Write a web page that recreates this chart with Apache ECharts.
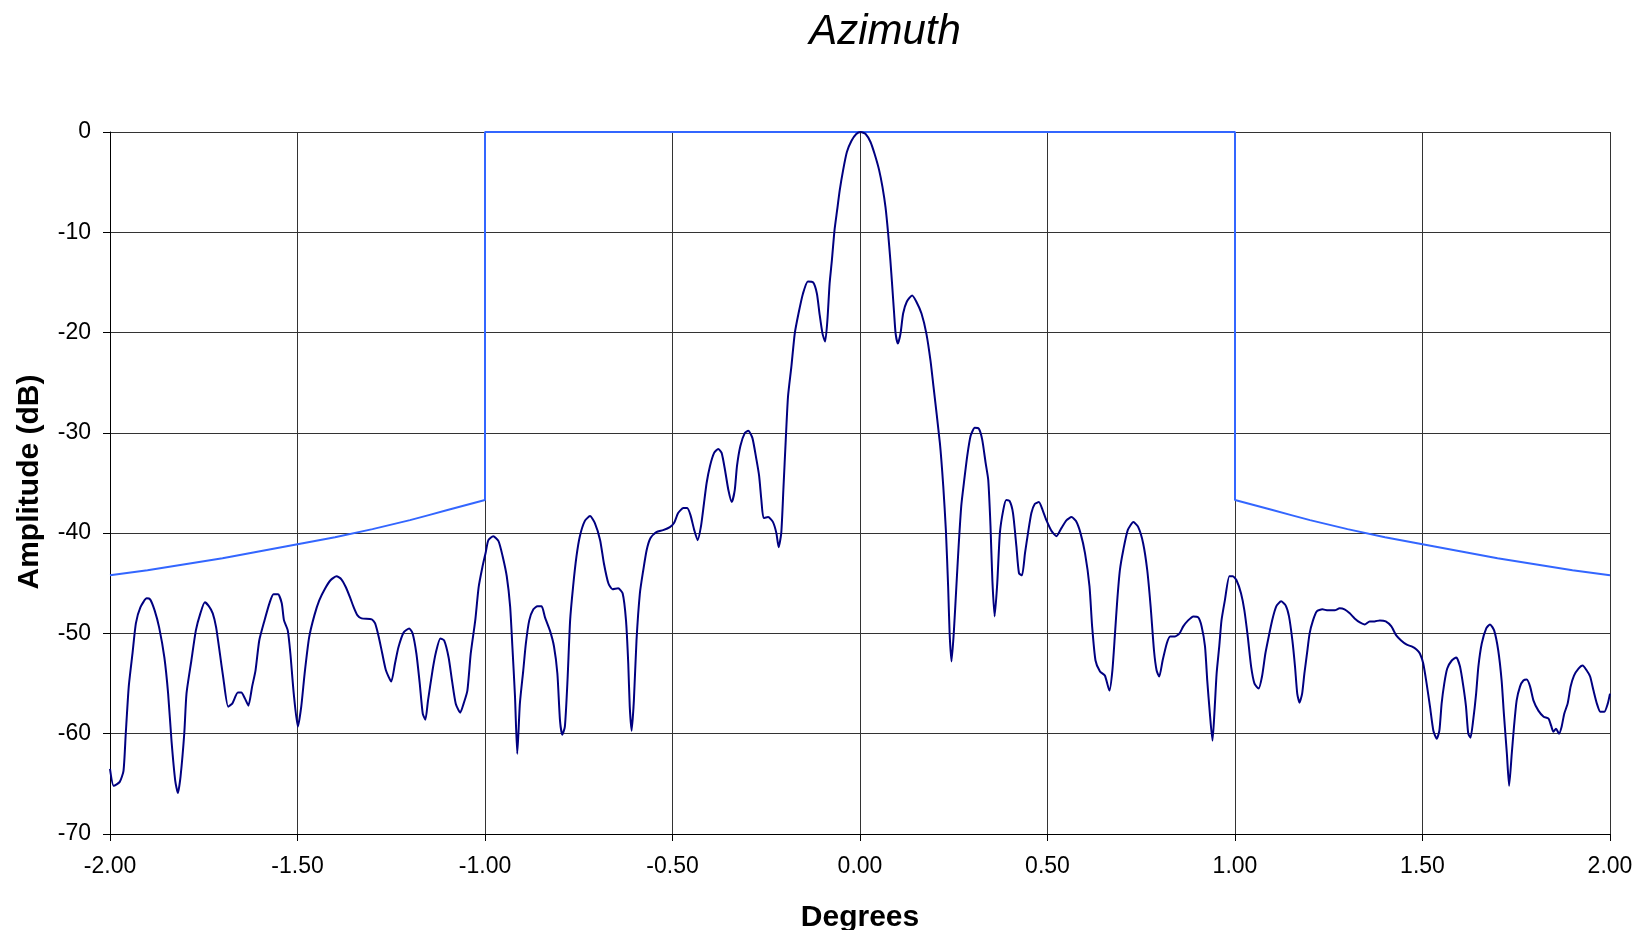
<!DOCTYPE html>
<html>
<head>
<meta charset="utf-8">
<title>Azimuth</title>
<script src="https://cdn.jsdelivr.net/npm/echarts@6/dist/echarts.min.js"></script>
<style>
  html, body { margin: 0; padding: 0; background: #fff; }
  #chart { width: 1639px; height: 930px; }
</style>
</head>
<body>
<div id="chart"></div>
<script>
// measured antenna pattern (degrees, dB)
const patternDeg = [
  -2.000, -1.990, -1.974, -1.964, -1.958, -1.950, -1.940, -1.931, -1.919, -1.902,
  -1.893, -1.881, -1.869, -1.855, -1.845, -1.836, -1.826, -1.819, -1.812, -1.802,
  -1.796, -1.783, -1.771, -1.759, -1.747, -1.736, -1.726, -1.717, -1.707, -1.698,
  -1.685, -1.674, -1.659, -1.650, -1.640, -1.631, -1.621, -1.612, -1.602, -1.588,
  -1.574, -1.564, -1.552, -1.542, -1.536, -1.526, -1.519, -1.510, -1.499, -1.490,
  -1.481, -1.469, -1.455, -1.442, -1.426, -1.412, -1.396, -1.383, -1.371, -1.359,
  -1.350, -1.340, -1.329, -1.302, -1.293, -1.283, -1.274, -1.264, -1.250, -1.240,
  -1.231, -1.217, -1.202, -1.193, -1.183, -1.174, -1.166, -1.159, -1.152, -1.140,
  -1.131, -1.119, -1.109, -1.097, -1.088, -1.078, -1.066, -1.057, -1.047, -1.038,
  -1.026, -1.017, -1.007, -0.998, -0.991, -0.978, -0.964, -0.953, -0.942, -0.933,
  -0.927, -0.920, -0.914, -0.907, -0.898, -0.891, -0.882, -0.871, -0.860, -0.849,
  -0.840, -0.827, -0.816, -0.807, -0.800, -0.794, -0.787, -0.780, -0.773, -0.765,
  -0.756, -0.747, -0.734, -0.720, -0.707, -0.693, -0.683, -0.671, -0.660, -0.645,
  -0.633, -0.624, -0.618, -0.614, -0.609, -0.603, -0.596, -0.587, -0.578, -0.569,
  -0.559, -0.543, -0.525, -0.507, -0.496, -0.485, -0.471, -0.461, -0.452, -0.442,
  -0.433, -0.424, -0.416, -0.409, -0.400, -0.389, -0.378, -0.369, -0.360, -0.351,
  -0.342, -0.334, -0.328, -0.319, -0.307, -0.298, -0.287, -0.276, -0.269, -0.263,
  -0.257, -0.245, -0.232, -0.223, -0.217, -0.210, -0.204, -0.198, -0.192, -0.183,
  -0.174, -0.164, -0.152, -0.139, -0.125, -0.115, -0.108, -0.100, -0.093, -0.087,
  -0.081, -0.075, -0.068, -0.061, -0.054, -0.045, -0.035, -0.023, -0.010, 0.002,
  0.015, 0.028, 0.039, 0.051, 0.060, 0.068, 0.075, 0.081, 0.086, 0.091,
  0.095, 0.101, 0.108, 0.115, 0.125, 0.139, 0.150, 0.164, 0.177, 0.188,
  0.196, 0.213, 0.222, 0.229, 0.235, 0.239, 0.244, 0.250, 0.257, 0.263,
  0.270, 0.278, 0.286, 0.295, 0.306, 0.317, 0.326, 0.335, 0.342, 0.348,
  0.353, 0.359, 0.366, 0.373, 0.382, 0.390, 0.399, 0.408, 0.417, 0.424,
  0.432, 0.440, 0.448, 0.457, 0.466, 0.477, 0.487, 0.497, 0.511, 0.524,
  0.537, 0.551, 0.564, 0.576, 0.588, 0.600, 0.612, 0.619, 0.628, 0.640,
  0.653, 0.665, 0.673, 0.680, 0.686, 0.693, 0.702, 0.714, 0.729, 0.742,
  0.755, 0.766, 0.775, 0.784, 0.791, 0.798, 0.807, 0.818, 0.827, 0.840,
  0.852, 0.862, 0.875, 0.889, 0.902, 0.911, 0.920, 0.926, 0.933, 0.940,
  0.945, 0.951, 0.958, 0.964, 0.973, 0.985, 0.994, 1.004, 1.016, 1.025,
  1.034, 1.043, 1.052, 1.063, 1.072, 1.081, 1.090, 1.099, 1.110, 1.123,
  1.135, 1.144, 1.153, 1.160, 1.166, 1.172, 1.179, 1.185, 1.192, 1.199,
  1.208, 1.218, 1.233, 1.248, 1.266, 1.279, 1.292, 1.306, 1.319, 1.333,
  1.346, 1.359, 1.372, 1.386, 1.402, 1.417, 1.430, 1.443, 1.457, 1.471,
  1.484, 1.493, 1.502, 1.511, 1.520, 1.529, 1.538, 1.545, 1.551, 1.558,
  1.566, 1.578, 1.590, 1.600, 1.609, 1.616, 1.622, 1.628, 1.635, 1.643,
  1.649, 1.658, 1.670, 1.680, 1.691, 1.702, 1.711, 1.717, 1.725, 1.731,
  1.738, 1.744, 1.751, 1.760, 1.769, 1.778, 1.787, 1.796, 1.809, 1.823,
  1.836, 1.843, 1.849, 1.856, 1.864, 1.871, 1.878, 1.887, 1.895, 1.904,
  1.916, 1.927, 1.938, 1.947, 1.956, 1.965, 1.974, 1.985, 1.994, 2.000
];
const patternDb = [
  -63.5, -65.2, -64.8, -63.7, -60.0, -55.3, -52.0, -49.0, -47.4, -46.5,
  -46.6, -47.7, -49.4, -52.4, -56.0, -60.7, -64.7, -65.9, -64.3, -60.0,
  -56.0, -52.7, -49.7, -48.0, -46.9, -47.3, -48.0, -49.4, -52.0, -54.4,
  -57.3, -57.0, -55.9, -55.9, -56.5, -57.2, -55.3, -53.7, -50.7, -48.7,
  -46.9, -46.1, -46.1, -47.0, -48.7, -49.7, -52.0, -56.0, -59.3, -57.3,
  -54.0, -50.4, -48.2, -46.7, -45.5, -44.7, -44.3, -44.6, -45.4, -46.5,
  -47.4, -48.2, -48.5, -48.6, -49.0, -50.4, -52.0, -53.7, -54.8, -53.0,
  -51.4, -49.9, -49.5, -50.0, -52.0, -55.0, -58.0, -58.6, -56.7, -53.7,
  -51.9, -50.5, -50.7, -52.4, -54.7, -57.0, -57.9, -57.0, -55.7, -52.0,
  -48.7, -45.4, -43.4, -41.9, -40.7, -40.3, -40.8, -42.3, -44.3, -47.3,
  -51.3, -56.3, -62.0, -57.0, -53.7, -51.0, -48.7, -47.6, -47.3, -47.3,
  -48.4, -49.7, -51.3, -54.0, -58.7, -60.1, -59.3, -54.7, -48.7, -45.3,
  -42.3, -40.3, -38.8, -38.3, -39.0, -40.7, -43.0, -45.0, -45.6, -45.5,
  -46.0, -48.7, -53.0, -57.3, -59.7, -56.7, -50.7, -46.0, -43.7, -41.7,
  -40.5, -39.9, -39.7, -39.4, -39.0, -38.0, -37.5, -37.5, -38.2, -39.7,
  -40.7, -39.3, -37.0, -35.0, -33.3, -32.0, -31.6, -32.0, -33.7, -35.7,
  -36.9, -35.7, -33.3, -31.3, -30.0, -29.8, -30.5, -32.7, -34.3, -36.7,
  -38.5, -38.4, -38.9, -40.0, -41.4, -40.0, -35.4, -30.7, -26.4, -23.4,
  -20.1, -18.1, -16.1, -14.9, -15.0, -16.1, -18.1, -20.1, -20.9, -18.8,
  -15.1, -12.8, -9.8, -7.8, -5.8, -3.8, -2.0, -0.9, -0.2, 0.0,
  -0.2, -1.0, -2.2, -3.8, -5.5, -7.5, -10.1, -12.8, -15.4, -18.1,
  -20.1, -21.1, -20.1, -18.1, -16.9, -16.3, -16.9, -18.1, -20.1, -22.8,
  -25.4, -31.0, -35.3, -39.7, -45.3, -50.0, -52.8, -50.0, -45.3, -41.3,
  -37.3, -34.7, -32.3, -30.3, -29.5, -29.6, -30.7, -33.0, -34.7, -39.3,
  -44.7, -48.3, -45.0, -40.0, -37.7, -36.7, -36.8, -38.0, -41.3, -44.0,
  -44.2, -42.0, -40.0, -38.0, -37.1, -36.9, -37.7, -38.7, -39.8, -40.3,
  -39.5, -38.7, -38.4, -38.8, -40.0, -42.0, -45.3, -49.3, -52.7, -53.8,
  -54.2, -55.7, -53.7, -50.0, -46.7, -43.7, -41.7, -39.7, -38.9, -39.4,
  -41.0, -43.7, -47.3, -51.7, -53.7, -54.3, -52.7, -51.0, -50.3, -50.3,
  -50.0, -49.3, -48.7, -48.3, -48.4, -49.3, -51.3, -54.7, -58.0, -60.7,
  -58.0, -54.0, -51.3, -48.7, -46.7, -44.3, -44.3, -44.7, -46.0, -47.7,
  -50.3, -53.3, -55.0, -55.5, -54.3, -52.0, -50.3, -48.7, -47.3, -46.8,
  -47.2, -48.3, -50.7, -53.3, -56.0, -56.9, -56.0, -54.0, -52.0, -50.0,
  -48.7, -47.8, -47.6, -47.7, -47.7, -47.5, -47.6, -48.0, -48.5, -48.9,
  -49.1, -48.8, -48.8, -48.7, -48.8, -49.3, -50.2, -50.7, -51.1, -51.3,
  -51.6, -52.0, -53.0, -55.0, -57.3, -59.7, -60.5, -59.7, -57.0, -55.0,
  -53.5, -52.7, -52.4, -53.3, -55.3, -57.3, -60.0, -60.4, -58.7, -56.0,
  -53.3, -51.0, -49.5, -49.1, -49.7, -51.7, -54.7, -58.0, -62.0, -65.2,
  -62.0, -59.3, -56.7, -55.3, -54.7, -54.6, -55.3, -56.7, -57.7, -58.3,
  -58.5, -59.2, -59.8, -59.5, -60.0, -59.3, -58.0, -57.0, -55.3, -54.2,
  -53.5, -53.2, -53.7, -54.3, -55.7, -57.0, -57.8, -57.8, -57.0, -56.0
];

// sidelobe mask (degrees, dB)
const maskDeg = [
  -2.0, -1.9, -1.8, -1.7, -1.6, -1.5, -1.4, -1.3, -1.2, -1.15, -1.1, -1.05, -1.0, -1.0,
  1.0, 1.0, 1.05, 1.1, 1.15, 1.2, 1.3, 1.4, 1.5, 1.6, 1.7, 1.8, 1.9, 2.0
];
const maskDb = [
  -44.2, -43.7, -43.1, -42.5, -41.8, -41.1, -40.4, -39.6, -38.7, -38.2, -37.7, -37.2, -36.7, 0,
  0, -36.7, -37.2, -37.7, -38.2, -38.7, -39.6, -40.4, -41.1, -41.8, -42.5, -43.1, -43.7, -44.2
];

const xMin = -2, xMax = 2, xStep = 0.5;
const yMin = -70, yMax = 0, yStep = 10;

const FONT = '"Liberation Sans", Arial, sans-serif';

const chart = echarts.init(document.getElementById('chart'));

const option = {
  backgroundColor: '#ffffff',
  animation: false,
  textStyle: { fontFamily: FONT },
  grid: { left: 110, right: 29, top: 132, bottom: 96, containLabel: false },
  xAxis: {
    type: 'value',
    min: xMin,
    max: xMax,
    interval: xStep,
    axisLine: { show: true, onZero: false, lineStyle: { color: '#000', width: 1 } },
    axisTick: { show: true, length: 7, lineStyle: { color: '#000' } },
    axisLabel: {
      color: '#000',
      fontSize: 23,
      fontFamily: FONT,
      margin: 21,
      formatter: (v) => v.toFixed(2)
    },
    splitLine: { show: true, lineStyle: { color: '#333', width: 1 } }
  },
  yAxis: {
    type: 'value',
    min: yMin,
    max: yMax,
    interval: yStep,
    axisLine: { show: true, onZero: false, lineStyle: { color: '#000', width: 1 } },
    axisTick: { show: true, length: 7, lineStyle: { color: '#000' } },
    axisLabel: {
      color: '#000',
      fontSize: 23,
      fontFamily: FONT,
      margin: 19
    },
    splitLine: { show: true, lineStyle: { color: '#333', width: 1 } }
  },
  graphic: [
    {
      type: 'text',
      x: 885,
      y: 32,
      style: {
        text: 'Azimuth',
        fill: '#000',
        font: 'italic 42px ' + FONT,
        align: 'center',
        verticalAlign: 'middle'
      }
    },
    {
      type: 'text',
      x: 860,
      y: 918,
      style: {
        text: 'Degrees',
        fill: '#000',
        font: 'bold 30px ' + FONT,
        align: 'center',
        verticalAlign: 'middle'
      }
    },
    {
      type: 'text',
      x: 30,
      y: 482,
      rotation: Math.PI / 2,
      style: {
        text: 'Amplitude (dB)',
        fill: '#000',
        font: 'bold 30px ' + FONT,
        align: 'center',
        verticalAlign: 'middle'
      }
    }
  ],
  series: [
    {
      name: 'Mask',
      type: 'line',
      data: maskDeg.map((d, i) => [d, maskDb[i]]),
      showSymbol: false,
      clip: false,
      lineStyle: { color: '#3366ff', width: 2 },
      z: 3
    },
    {
      name: 'Azimuth',
      type: 'line',
      data: patternDeg.map((d, i) => [d, patternDb[i]]),
      showSymbol: false,
      smooth: 0.2,
      clip: false,
      lineStyle: { color: '#000080', width: 2 },
      z: 4
    }
  ]
};

chart.setOption(option);
</script>
</body>
</html>
